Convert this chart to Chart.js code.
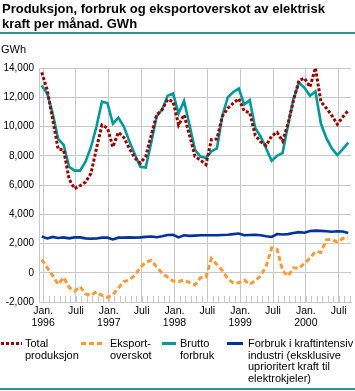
<!DOCTYPE html>
<html><head><meta charset="utf-8">
<script src="https://cdn.jsdelivr.net/npm/chart.js@4.4.1/dist/chart.umd.min.js"></script>
<style>
html,body{margin:0;padding:0;background:#fff;}
#wrap{position:relative;width:355px;height:391px;overflow:hidden;font-family:"Liberation Sans",Arial,sans-serif;color:#000;}
#chartbox{position:absolute;left:0;top:0;width:355px;height:391px;}
#title{position:absolute;left:2px;top:2px;font-weight:bold;font-size:13px;line-height:14.5px;white-space:nowrap;}
#rule1{position:absolute;left:0;top:32px;width:355px;height:2px;background:#2a9494;}
#unit{position:absolute;left:1px;top:44px;font-size:11px;line-height:11px;}
.leg{position:absolute;top:338px;font-size:11px;line-height:11.7px;white-space:nowrap;}
.sw{position:absolute;top:340px;height:7px;}
#rule2{position:absolute;left:0;top:388px;width:355px;height:2px;background:#2a9494;}
</style>
</head><body>
<div id="wrap">
  <div id="chartbox"><canvas id="c" width="355" height="391"></canvas></div>
  <div id="title">Produksjon, forbruk og eksportoverskot av elektrisk<br>kraft per månad. GWh</div>
  <div id="rule1"></div>
  <div id="unit">GWh</div>
  <svg class="sw" style="left:1px" width="21" height="7"><line x1="0" y1="3.5" x2="21" y2="3.5" stroke="#990000" stroke-width="3" stroke-dasharray="3,2"/></svg>
  <div class="leg" style="left:25px">Total<br>produksjon</div>
  <svg class="sw" style="left:81px" width="23" height="7"><line x1="0" y1="3.5" x2="23" y2="3.5" stroke="#ff9933" stroke-width="3" stroke-dasharray="5,3"/></svg>
  <div class="leg" style="left:110px">Eksport-<br>overskot</div>
  <svg class="sw" style="left:162px" width="14" height="7"><line x1="0" y1="3.5" x2="14" y2="3.5" stroke="#009999" stroke-width="3"/></svg>
  <div class="leg" style="left:180px">Brutto<br>forbruk</div>
  <svg class="sw" style="left:227px" width="16" height="7"><line x1="0" y1="3.5" x2="16" y2="3.5" stroke="#003399" stroke-width="3"/></svg>
  <div class="leg" style="left:248px">Forbruk i kraftintensiv<br>industri (eksklusive<br>uprioritert kraft til<br>elektrokjeler)</div>
  <div id="rule2"></div>
</div>
<script>
const categories = [
 '1996M01','1996M02','1996M03','1996M04','1996M05','1996M06','1996M07','1996M08','1996M09','1996M10','1996M11','1996M12',
 '1997M01','1997M02','1997M03','1997M04','1997M05','1997M06','1997M07','1997M08','1997M09','1997M10','1997M11','1997M12',
 '1998M01','1998M02','1998M03','1998M04','1998M05','1998M06','1998M07','1998M08','1998M09','1998M10','1998M11','1998M12',
 '1999M01','1999M02','1999M03','1999M04','1999M05','1999M06','1999M07','1999M08','1999M09','1999M10','1999M11','1999M12',
 '2000M01','2000M02','2000M03','2000M04','2000M05','2000M06','2000M07','2000M08','2000M09'
];
const totalProduksjon = [
 13700,12500,10500,8450,8400,6400,5750,5950,6200,6800,8500,10100,
 9900,8600,9600,9250,8500,7850,7500,7950,9400,10800,11150,11850,
 11700,10100,10800,9400,7950,7700,7400,9100,9150,10700,11250,11600,
 11900,11050,10950,9400,8950,8700,9350,9600,9000,10200,11800,13150,
 13300,12700,14000,11700,11250,10750,10150,10650,11100
];
const eksportoverskot = [
 900,350,-200,-800,-320,-1000,-1250,-950,-1450,-1550,-1300,-1550,
 -1680,-1500,-1050,-600,-500,-180,350,720,850,400,-30,-300,
 -560,-600,-500,-680,-830,-340,-300,970,570,150,-420,-700,
 -680,-500,-800,-550,-200,450,1700,1600,150,-230,340,300,
 650,1000,1450,1400,2250,2280,2100,2350,2350
];
const bruttoForbruk = [
 12800,12250,10900,9150,8750,7250,6980,6980,7600,8600,10000,11700,
 11600,10200,10600,10000,9000,8100,7250,7200,8900,10700,11150,12100,
 12250,10900,11750,10100,8400,7950,7850,8300,8500,10750,12000,12350,
 12600,11500,11800,9900,9300,8500,7650,8000,8200,10100,11900,13000,
 12650,12100,12400,10200,9200,8500,8050,8450,8900
];
const kraftintensivIndustri = [
 2480,2350,2450,2380,2420,2350,2420,2420,2350,2330,2340,2400,
 2400,2280,2400,2400,2420,2400,2420,2450,2480,2430,2500,2580,
 2600,2420,2560,2520,2540,2560,2560,2560,2560,2580,2600,2640,
 2680,2560,2580,2600,2560,2500,2450,2650,2620,2640,2720,2780,
 2740,2860,2880,2860,2840,2800,2840,2820,2720
];
const tickLabels = [
 ['Jan.','1996'],'Juli',['Jan.','1997'],'Juli',['Jan.','1998'],'Juli',
 ['Jan.','1999'],'Juli',['Jan.','2000'],'Juli'
];
const yTicks = [-2000,0,2000,4000,6000,8000,10000,12000,14000];

const tickIdx = categories.map((c,i)=>(c.endsWith('M01')||c.endsWith('M07'))?i:-1).filter(i=>i>=0);
const GRID = '#c8c8c8';
const toXY = arr => arr.map((v,i)=>({x:i,y:v}));

const minorTicks = {
  id:'minorTicks',
  beforeDatasetsDraw(chart){
    const {ctx, chartArea:a, scales:{x}} = chart;
    ctx.save(); ctx.strokeStyle = GRID; ctx.lineWidth = 1;
    categories.forEach((c,i)=>{
      const px = Math.round(x.getPixelForValue(i+0.25))+0.5;
      ctx.beginPath(); ctx.moveTo(px,a.bottom); ctx.lineTo(px,a.bottom-6); ctx.stroke();
    });
    ctx.restore();
  }
};

new Chart(document.getElementById('c'), {
  type:'line',
  data:{datasets:[
    {label:'Total produksjon', data:toXY(totalProduksjon), borderColor:'#990000', borderWidth:3, borderDash:[3,2], borderCapStyle:'butt'},
    {label:'Eksportoverskot', data:toXY(eksportoverskot), borderColor:'#ff9933', borderWidth:3, borderDash:[5,3], borderCapStyle:'butt'},
    {label:'Brutto forbruk', data:toXY(bruttoForbruk), borderColor:'#009999', borderWidth:2.6},
    {label:'Forbruk i kraftintensiv industri', data:toXY(kraftintensivIndustri), borderColor:'#003399', borderWidth:2.6}
  ]},
  options:{
    responsive:false, animation:false, devicePixelRatio:1,
    layout:{padding:{top:68,left:0,right:4,bottom:58}},
    elements:{point:{radius:0}, line:{tension:0, fill:false}},
    plugins:{legend:{display:false}, tooltip:{enabled:false}, title:{display:false}},
    scales:{
      x:{type:'linear', min:-0.5, max:56.5,
         afterBuildTicks:s=>{ s.ticks = tickIdx.map(i=>({value:i+0.25})); },
         afterFit:s=>{ s.height = 31; },
         grid:{color:GRID, lineWidth:1, drawTicks:false},
         border:{color:GRID},
         ticks:{autoSkip:false, maxRotation:0, padding:3, color:'#000',
                font:{family:'"Liberation Sans", Arial, sans-serif', size:10.5, lineHeight:1.15},
                callback:(v,i)=>tickLabels[i]}
      },
      y:{min:-2000, max:14000,
         afterBuildTicks:s=>{ s.ticks = yTicks.map(v=>({value:v})); },
         afterFit:s=>{ s.width = 39; },
         grid:{color:GRID, lineWidth:1, drawTicks:false},
         border:{color:GRID},
         ticks:{padding:5, color:'#000', font:{family:'"Liberation Sans", Arial, sans-serif', size:10}}
      }
    }
  },
  plugins:[minorTicks]
});
</script>
</body></html>
